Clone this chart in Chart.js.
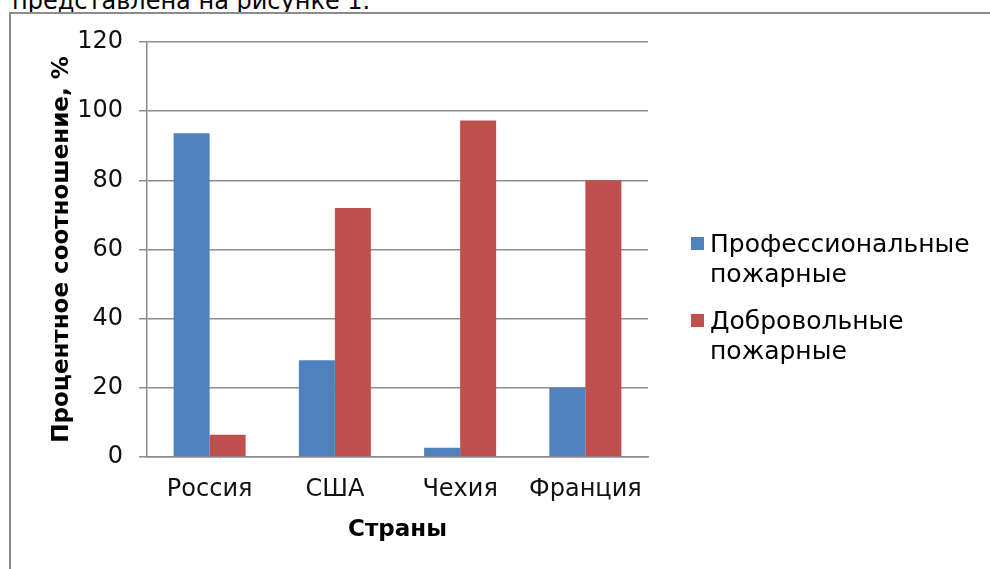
<!DOCTYPE html>
<html lang="ru">
<head>
<meta charset="utf-8">
<title>Профессиональные и добровольные пожарные</title>
<script src="https://cdn.jsdelivr.net/npm/chart.js@4/dist/chart.umd.min.js"></script>
<style>
    html, body { margin: 0; padding: 0; background: #fff; overflow: hidden; }
    body { width: 990px; height: 569px; position: relative; font-family: 'DejaVu Sans', sans-serif; }
    .caption { position: absolute; left: 12px; top: -11px; font-size: 24px; line-height: 24px; color: #000; white-space: nowrap; }
    .frame { position: absolute; left: 9px; top: 12px; width: 1200px; height: 800px; border: 2px solid #8c8c8c; }
    .chart-container { position: absolute; left: 0; top: 0; width: 990px; height: 569px; }
</style>
</head>
<body>
<div class="caption">представлена на рисунке 1.</div>
<div class="frame"></div>
<div class="chart-container"><canvas id="fireChart"></canvas></div>
<script>
const countries = ['Россия', 'США', 'Чехия', 'Франция'];
const professional = [93.6, 28, 2.7, 20];
const volunteer = [6.4, 72, 97.3, 80];
const seriesNames = [['Профессиональные', 'пожарные'], ['Добровольные', 'пожарные']];
const yTicks = [0, 20, 40, 60, 80, 100, 120];

const FONT = "'DejaVu Sans', sans-serif";
const GRID = '#8c8c8c';

// легенда справа, подписи в две строки
const sideLegend = {
    id: 'sideLegend',
    afterDraw(chart) {
        const ctx = chart.ctx;
        const x = chart.chartArea.right + 43;
        const top = chart.chartArea.top + 202;
        ctx.save();
        ctx.font = '25px ' + FONT;
        ctx.textBaseline = 'middle';
        ctx.textAlign = 'left';
        chart.data.datasets.forEach((ds, i) => {
            const y = top + i * 77;
            ctx.fillStyle = ds.backgroundColor;
            ctx.fillRect(x, y - 7, 13, 13);
            ctx.fillStyle = '#000';
            seriesNames[i].forEach((line, j) => {
                ctx.fillText(line, x + 19, y + 1 + j * 30);
            });
        });
        ctx.restore();
    }
};

new Chart(document.getElementById('fireChart'), {
    type: 'bar',
    data: {
        labels: countries,
        datasets: [
            { label: seriesNames[0].join(' '), data: professional, backgroundColor: '#4f81bd' },
            { label: seriesNames[1].join(' '), data: volunteer, backgroundColor: '#c0504d' }
        ]
    },
    options: {
        responsive: true,
        maintainAspectRatio: false,
        animation: false,
        layout: { padding: { left: 0, top: 42, right: 342, bottom: 0 } },
        datasets: { bar: { categoryPercentage: 0.575, barPercentage: 1 } },
        scales: {
            x: {
                grid: { display: false, drawTicks: false },
                border: { display: true, color: GRID, width: 1.5 },
                ticks: { color: '#111', font: { family: FONT, size: 24 }, padding: 18, maxRotation: 0 },
                title: {
                    display: true, text: 'Страны', color: '#000',
                    font: { family: FONT, size: 23, weight: 'bold' },
                    padding: { top: 25, bottom: 25 }
                },
                afterFit: scale => { scale.height = 112; }
            },
            y: {
                min: 0,
                max: 120,
                afterBuildTicks: scale => { scale.ticks = yTicks.map(v => ({ value: v })); },
                grid: { color: GRID, lineWidth: 1.5, tickLength: 8 },
                border: { display: true, color: GRID, width: 1.5 },
                ticks: { color: '#111', font: { family: FONT, size: 24 }, padding: 16 },
                title: {
                    display: true, text: 'Процентное соотношение, %', color: '#000',
                    font: { family: FONT, size: 23, weight: 'bold' },
                    padding: { top: 48, bottom: 48 }
                },
                afterFit: scale => { scale.width = 147; }
            }
        },
        plugins: {
            legend: { display: false },
            tooltip: { enabled: false }
        }
    },
    plugins: [sideLegend]
});
</script>
</body>
</html>
